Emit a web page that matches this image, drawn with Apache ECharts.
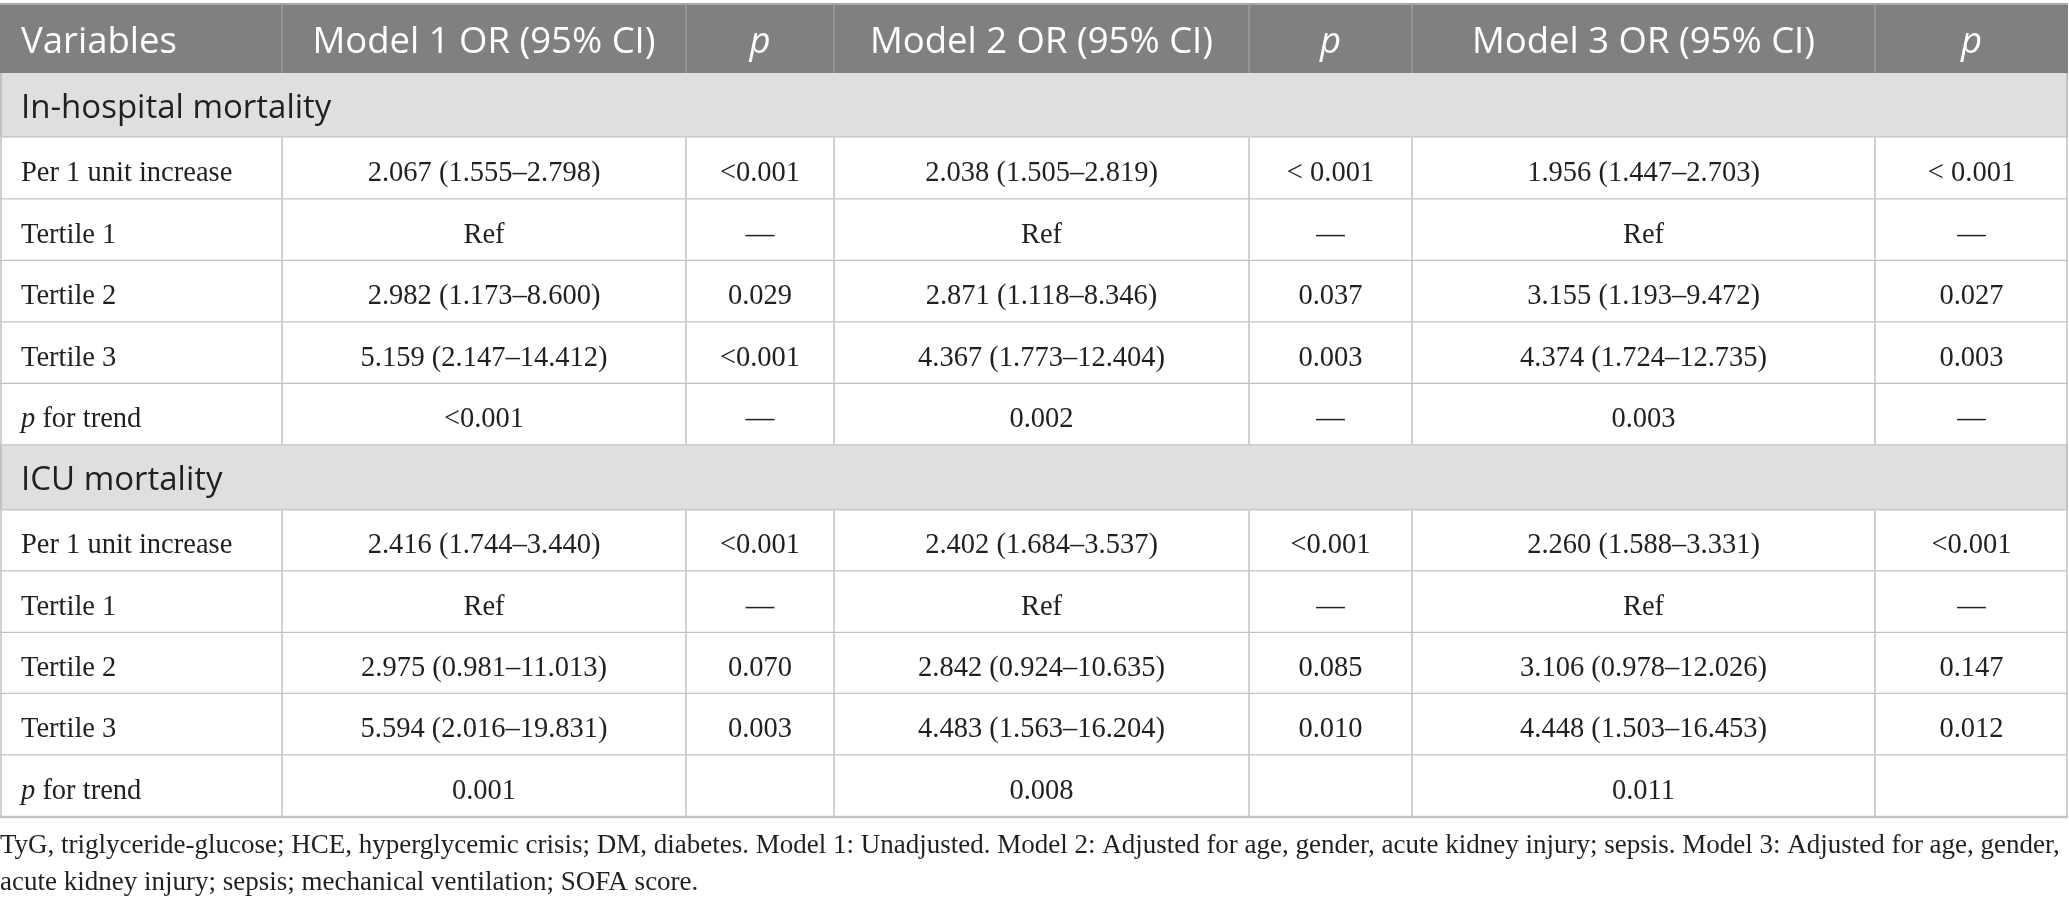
<!DOCTYPE html>
<html>
<head>
<meta charset="utf-8">
<script src="https://cdn.jsdelivr.net/npm/echarts@6/dist/echarts.min.js"></script>
<style>
html,body{margin:0;padding:0;background:#fff;}
#chart{width:2069px;height:907px;}
</style>
</head>
<body>
<div id="chart"></div>
<script>
// ---------- DATA ----------
const colHeaders = ['Variables', 'Model 1 OR (95% CI)', 'p', 'Model 2 OR (95% CI)', 'p', 'Model 3 OR (95% CI)', 'p'];
const italicHeader = [false, false, true, false, true, false, true];
const sectionTitles = ['In-hospital mortality', 'ICU mortality'];
const rowLabels = ['Per 1 unit increase', 'Tertile 1', 'Tertile 2', 'Tertile 3', 'p for trend'];

const hospModel1OR = ['2.067 (1.555–2.798)', 'Ref', '2.982 (1.173–8.600)', '5.159 (2.147–14.412)', '<0.001'];
const hospModel1P  = ['<0.001', '—', '0.029', '<0.001', '—'];
const hospModel2OR = ['2.038 (1.505–2.819)', 'Ref', '2.871 (1.118–8.346)', '4.367 (1.773–12.404)', '0.002'];
const hospModel2P  = ['< 0.001', '—', '0.037', '0.003', '—'];
const hospModel3OR = ['1.956 (1.447–2.703)', 'Ref', '3.155 (1.193–9.472)', '4.374 (1.724–12.735)', '0.003'];
const hospModel3P  = ['< 0.001', '—', '0.027', '0.003', '—'];

const icuModel1OR = ['2.416 (1.744–3.440)', 'Ref', '2.975 (0.981–11.013)', '5.594 (2.016–19.831)', '0.001'];
const icuModel1P  = ['<0.001', '—', '0.070', '0.003', ''];
const icuModel2OR = ['2.402 (1.684–3.537)', 'Ref', '2.842 (0.924–10.635)', '4.483 (1.563–16.204)', '0.008'];
const icuModel2P  = ['<0.001', '—', '0.085', '0.010', ''];
const icuModel3OR = ['2.260 (1.588–3.331)', 'Ref', '3.106 (0.978–12.026)', '4.448 (1.503–16.453)', '0.011'];
const icuModel3P  = ['<0.001', '—', '0.147', '0.012', ''];

const footnoteLines = [
  'TyG, triglyceride-glucose; HCE, hyperglycemic crisis; DM, diabetes. Model 1: Unadjusted. Model 2: Adjusted for age, gender, acute kidney injury; sepsis. Model 3: Adjusted for age, gender,',
  'acute kidney injury; sepsis; mechanical ventilation; SOFA score.'
];

// ---------- LAYOUT (pixel units of the hidden axes) ----------
const COL_EDGES = [0, 282, 686, 834, 1249, 1412, 1875, 2068];
const ROW_EDGES = [4, 73, 137.5, 199.5, 261, 322.5, 384, 445.5, 510.5, 571.5, 633, 694, 755.5, 817];
const FOOT_Y = [848, 885];

const C = {
  headBg: '#7f807f', headLine: '#9c9c9c', headText: '#ffffff',
  secBg: '#e0dfe0', grid: '#c2c2c2', text: '#231f20'
};
const SANS = '"Open Sans", Lato, sans-serif';
const SERIF = '"Liberation Serif", "DejaVu Serif", serif';
const HEAD_SIZE = 36.5, SEC_SIZE = 33, BODY_SIZE = 28.5, FOOT_SIZE = 27;

// ---------- BUILD CELLS ----------
const groups = [
  {title: sectionTitles[0], cols: [rowLabels, hospModel1OR, hospModel1P, hospModel2OR, hospModel2P, hospModel3OR, hospModel3P]},
  {title: sectionTitles[1], cols: [rowLabels, icuModel1OR, icuModel1P, icuModel2OR, icuModel2P, icuModel3OR, icuModel3P]}
];
const cells = [];
colHeaders.forEach((h, c) => cells.push({kind: 'head', text: h, italic: italicHeader[c], col: c, row: 0,
  value: [COL_EDGES[c], ROW_EDGES[0], COL_EDGES[c + 1], ROW_EDGES[1]]}));
let r = 1;
groups.forEach(g => {
  cells.push({kind: 'section', text: g.title, col: 0, row: r,
    value: [COL_EDGES[0], ROW_EDGES[r], COL_EDGES[COL_EDGES.length - 1], ROW_EDGES[r + 1]]});
  r++;
  for (let i = 0; i < rowLabels.length; i++) {
    g.cols.forEach((arr, c) => cells.push({kind: 'body', text: arr[i], col: c, row: r,
      value: [COL_EDGES[c], ROW_EDGES[r], COL_EDGES[c + 1], ROW_EDGES[r + 1]]}));
    r++;
  }
});

function renderItem(params, api) {
  const cell = cells[params.dataIndex];
  const p0 = api.coord([api.value(0), api.value(1)]);
  const p1 = api.coord([api.value(2), api.value(3)]);
  const x0 = p0[0], y0 = p0[1], x1 = p1[0], y1 = p1[1];
  const children = [];
  const cy = (y0 + y1) / 2;
  if (cell.kind === 'head') {
    children.push({type: 'rect', shape: {x: x0, y: y0, width: x1 - x0, height: y1 - y0}, style: {fill: C.headBg}});
    if (cell.col > 0) children.push({type: 'line', shape: {x1: x0, y1: y0, x2: x0, y2: y1}, style: {stroke: C.headLine, lineWidth: 1.5}});
    children.push({type: 'line', shape: {x1: x0, y1: y0, x2: x1, y2: y0}, style: {stroke: '#a8a8a8', lineWidth: 2}});
    const left = cell.col === 0;
    children.push({type: 'text', x: left ? x0 + 21 : (x0 + x1) / 2, y: cy + 4,
      style: {text: cell.text, fill: C.headText, font: (cell.italic ? 'italic ' : '') + HEAD_SIZE + 'px ' + SANS,
        align: left ? 'left' : 'center', verticalAlign: 'middle'}});
  } else if (cell.kind === 'section') {
    children.push({type: 'rect', shape: {x: x0, y: y0, width: x1 - x0, height: y1 - y0}, style: {fill: C.secBg}});
    children.push({type: 'line', shape: {x1: x0 + 1, y1: y0, x2: x0 + 1, y2: y1}, style: {stroke: C.grid, lineWidth: 2}});
    children.push({type: 'line', shape: {x1: x1 - 1, y1: y0, x2: x1 - 1, y2: y1}, style: {stroke: C.grid, lineWidth: 2}});
    children.push({type: 'line', shape: {x1: x0, y1: y1, x2: x1, y2: y1}, style: {stroke: C.grid, lineWidth: 2.5}});
    children.push({type: 'text', x: x0 + 21, y: cy + 3,
      style: {text: cell.text, fill: C.text, font: SEC_SIZE + 'px ' + SANS, align: 'left', verticalAlign: 'middle'}});
  } else {
    children.push({type: 'rect', shape: {x: x0, y: y0, width: x1 - x0, height: y1 - y0}, style: {fill: '#ffffff'}});
    const lx = cell.col === 0 ? x0 + 1 : x0;
    children.push({type: 'line', shape: {x1: lx, y1: y0, x2: lx, y2: y1}, style: {stroke: C.grid, lineWidth: 1.5}});
    if (cell.col === colHeaders.length - 1)
      children.push({type: 'line', shape: {x1: x1 - 1, y1: y0, x2: x1 - 1, y2: y1}, style: {stroke: C.grid, lineWidth: 1.5}});
    children.push({type: 'line', shape: {x1: x0, y1: y1, x2: x1, y2: y1}, style: {stroke: C.grid, lineWidth: 2.5}});
    const left = cell.col === 0;
    let style;
    if (left && cell.text.indexOf('p ') === 0) {
      style = {text: '{i|p}{n|' + cell.text.slice(1) + '}', align: 'left', verticalAlign: 'middle',
        rich: {i: {font: 'italic ' + BODY_SIZE + 'px ' + SERIF, fill: C.text}, n: {font: BODY_SIZE + 'px ' + SERIF, fill: C.text}}};
    } else {
      style = {text: cell.text, fill: C.text, font: BODY_SIZE + 'px ' + SERIF, align: left ? 'left' : 'center', verticalAlign: 'middle'};
    }
    children.push({type: 'text', x: left ? x0 + 21 : (x0 + x1) / 2, y: cy + 5, style: style});
  }
  return {type: 'group', children: children};
}

const chart = echarts.init(document.getElementById('chart'), null, {renderer: 'canvas'});
chart.setOption({
  backgroundColor: '#ffffff',
  animation: false,
  grid: {left: 0, right: 0, top: 0, bottom: 0},
  xAxis: {type: 'value', min: 0, max: 2069, show: false},
  yAxis: {type: 'value', min: 0, max: 907, inverse: true, show: false},
  graphic: footnoteLines.map((t, i) => ({
    type: 'text', left: 0, top: FOOT_Y[i] - 16,
    style: {text: t, fill: C.text, font: FOOT_SIZE + 'px ' + SERIF}
  })),
  series: [{
    type: 'custom',
    renderItem: renderItem,
    data: cells.map(c => ({value: c.value})),
    encode: {x: [0, 2], y: [1, 3]},
    clip: false,
    silent: true
  }]
});
</script>
</body>
</html>
